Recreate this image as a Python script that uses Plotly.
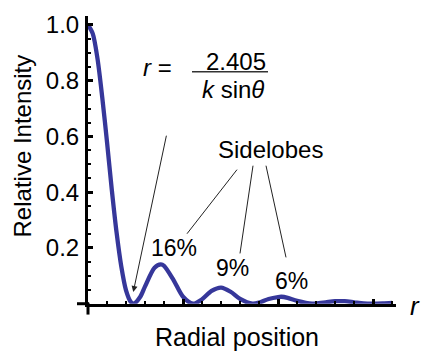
import plotly.graph_objects as go

# Radial coordinate (arbitrary units) and relative intensity
radial = [0, 0.25, 0.5, 0.75, 1.0, 1.25, 1.5, 1.75, 2.0, 2.25, 2.405, 2.75, 3.0, 3.5, 3.83,
          4.0, 4.5, 5.0, 5.52, 6.0, 6.5, 7.0, 7.5, 8.0, 8.65, 9.0, 9.5, 10.0, 10.17, 10.5,
          11.0, 11.79, 12.0, 12.5, 13.0, 13.5, 14.0, 14.5, 14.93, 15.5, 16.0]
intensity = [1.000, 0.969, 0.879, 0.740, 0.580, 0.410, 0.257, 0.134, 0.048, 0.0065, 0.0,
             0.025, 0.062, 0.129, 0.141, 0.136, 0.085, 0.025, 0.0, 0.016, 0.046, 0.058,
             0.043, 0.017, 0.0, 0.004, 0.017, 0.024, 0.025, 0.021, 0.010, 0.0, 0.001,
             0.005, 0.009, 0.009, 0.005, 0.001, 0.0, 0.001, 0.003]

y_tick_vals = [0.2, 0.4, 0.6, 0.8, 1.0]
y_tick_text = ["0.2", "0.4", "0.6", "0.8", "1.0"]
lobe_labels = ["16%", "9%", "6%"]

W, H = 425, 354
FONT = "Liberation Sans, Arial, sans-serif"
CURVE = "#36379a"

def px(xp):
    return xp / W

def py(yp):
    return (H - yp) / H

fig = go.Figure()
fig.add_trace(go.Scatter(x=radial, y=intensity, mode="lines",
                         line=dict(color=CURVE, width=4.3, shape="spline", smoothing=0.8),
                         hoverinfo="skip", showlegend=False))

fig.update_layout(
    width=W, height=H, margin=dict(l=0, r=0, t=0, b=0),
    paper_bgcolor="white", plot_bgcolor="white",
    font=dict(family=FONT, color="black"),
    xaxis=dict(domain=[px(88), px(396)], range=[0, 16.2], showgrid=False, zeroline=False,
               showline=True, linecolor="black", linewidth=3,
               ticks="inside", tickvals=[5, 10, 15], ticklen=5, tickwidth=3, tickcolor="black",
               showticklabels=False,
               minor=dict(ticks="inside", dtick=1, ticklen=3, tickwidth=2, tickcolor="black")),
    yaxis=dict(domain=[py(303), py(11.5)], range=[0, 1.031], showgrid=False, zeroline=False,
               showline=True, linecolor="black", linewidth=3,
               ticks="inside", tickvals=y_tick_vals, ticktext=y_tick_text,
               ticklen=5, tickwidth=3, tickcolor="black", ticklabelstandoff=1,
               tickfont=dict(size=24, family=FONT, color="black"),
               minor=dict(ticks="inside", dtick=0.05, tick0=0, ticklen=3, tickwidth=2,
                          tickcolor="black")),
)

# axis overhangs
fig.add_shape(type="line", xref="paper", yref="paper", x0=px(77), x1=px(89), y0=py(303), y1=py(303),
              line=dict(color="black", width=3))
fig.add_shape(type="line", xref="paper", yref="paper", x0=px(88), x1=px(88), y0=py(302), y1=py(314),
              line=dict(color="black", width=3))

def text(x, y, s, size=24, xanchor="center", **kw):
    fig.add_annotation(x=px(x), y=py(y), xref="paper", yref="paper", text=s, showarrow=False,
                       font=dict(size=size, family=FONT, color="black"),
                       xanchor=xanchor, yanchor="middle", **kw)

text(22, 143.5, "Relative Intensity", size=24, textangle=-90)
text(236.7, 336.5, "Radial position", size=25)
text(408, 305.5, "<i>r</i>", size=26, xanchor="left")

# formula
text(157.5, 63, "<i>r</i> =", size=24)
text(236, 57.3, "2.405", size=24)
text(233.3, 85.5, "<i>k</i> sin<i>θ</i>", size=24)
fig.add_shape(type="line", xref="paper", yref="paper", x0=px(192), x1=px(268), y0=py(67.7), y1=py(67.7),
              line=dict(color="#333333", width=1.5))

# arrow to first zero
fig.add_annotation(x=px(133.3), y=py(291), xref="paper", yref="paper",
                   axref="pixel", ayref="pixel", ax=33.4, ay=-157.7,
                   showarrow=True, arrowhead=2, arrowsize=1.2,
                   arrowwidth=1, arrowcolor="#222222", text="")

# sidelobes
text(270, 146.5, "Sidelobes", size=24)
text(174.3, 246.5, lobe_labels[0], size=23)
text(232.5, 266.5, lobe_labels[1], size=23)
text(291.7, 279.5, lobe_labels[2], size=23)
for (x0, y0, x1, y1) in [(237, 167, 187, 232), (253, 163, 240, 252), (266, 163, 286, 256)]:
    fig.add_shape(type="line", xref="paper", yref="paper", x0=px(x0), y0=py(y0), x1=px(x1), y1=py(y1),
                  line=dict(color="#222222", width=1))

fig.write_html("out.html", config={"displayModeBar": False},
               post_script="document.body.style.margin='0';")
